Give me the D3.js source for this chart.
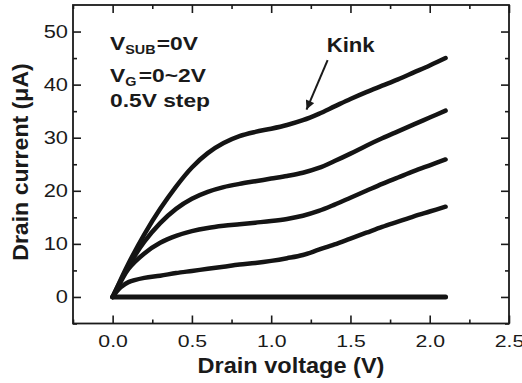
<!DOCTYPE html>
<html>
<head>
<meta charset="utf-8">
<script src="https://cdn.jsdelivr.net/npm/d3@7"></script>
<style>
  body { margin: 0; background: #fff; }
  text { font-family: "Liberation Sans", Arial, Helvetica, sans-serif; fill: #1a1a1a; }
</style>
</head>
<body>
<script>
// drain voltage samples (V)
var vd = [0, 0.05, 0.1, 0.2, 0.3, 0.4, 0.5, 0.6, 0.7, 0.8, 0.9, 1.0, 1.1,
          1.2, 1.3, 1.4, 1.5, 1.6, 1.7, 1.8, 1.9, 2.0, 2.1];

// drain current (uA) for each gate voltage
var idVg20 = [0, 3.2, 6.3, 11.8, 16.6, 20.8, 24.4, 27.1, 29.0, 30.3, 31.1, 31.7, 32.4,
              33.3, 34.5, 35.9, 37.3, 38.6, 39.8, 41.0, 42.3, 43.6, 45.0];
var idVg15 = [0, 3.0, 5.8, 10.4, 13.9, 16.6, 18.5, 19.8, 20.7, 21.3, 21.8, 22.3, 22.8,
              23.4, 24.3, 25.6, 27.0, 28.5, 29.9, 31.2, 32.5, 33.8, 35.1];
var idVg10 = [0, 2.8, 5.3, 8.2, 10.2, 11.5, 12.4, 13.0, 13.4, 13.7, 14.0, 14.3, 14.7,
              15.3, 16.2, 17.4, 18.7, 20.0, 21.3, 22.5, 23.7, 24.8, 25.9];
var idVg05 = [0, 1.8, 2.8, 3.6, 4.0, 4.5, 4.9, 5.3, 5.7, 6.1, 6.4, 6.8, 7.3,
              7.9, 8.9, 9.9, 11.0, 12.1, 13.2, 14.2, 15.2, 16.1, 17.0];
var idVg00 = [0, 0, 0, 0, 0, 0, 0, 0, 0, 0, 0, 0, 0,
              0, 0, 0, 0, 0, 0, 0, 0, 0, 0];

var xTicks = [0, 0.5, 1.0, 1.5, 2.0, 2.5];
var xMinor = [-0.25, 0.25, 0.75, 1.25, 1.75, 2.25];
var yTicks = [0, 10, 20, 30, 40, 50];
var yMinor = [-5, 5, 15, 25, 35, 45];

var width = 522;
var height = 383;
var margins = { top: 5, bottom: 59.5, left: 73, right: 13 };

var svg = d3.select("body").append("svg")
  .attr("width", width)
  .attr("height", height);

var xScale = d3.scaleLinear()
  .domain([-0.25, 2.5])
  .range([margins.left, width - margins.right]);
var yScale = d3.scaleLinear()
  .domain([-5, 55])
  .range([height - margins.bottom, margins.top]);

var x0 = margins.left, x1 = width - margins.right;
var y0 = height - margins.bottom, y1 = margins.top;

// ticks, all pointing inwards
function tickStyle(g) {
  g.select(".domain").remove();
  g.selectAll("line").attr("stroke", "#1a1a1a").attr("stroke-width", 1.6);
}

svg.append("g").attr("transform", "translate(0," + y0 + ")")
  .call(d3.axisBottom(xScale).tickValues(xTicks).tickSizeInner(-8).tickSizeOuter(0)
        .tickPadding(11).tickFormat(d3.format(".1f")))
  .call(tickStyle)
  .selectAll("text")
  .attr("font-size", 17)
  .attr("transform", "scale(1.25,1)");

svg.append("g").attr("transform", "translate(0," + y0 + ")")
  .call(d3.axisBottom(xScale).tickValues(xMinor).tickSize(-4).tickFormat(""))
  .call(tickStyle);

svg.append("g").attr("transform", "translate(0," + y1 + ")")
  .call(d3.axisTop(xScale).tickValues(xTicks).tickSize(-8).tickFormat(""))
  .call(tickStyle);
svg.append("g").attr("transform", "translate(0," + y1 + ")")
  .call(d3.axisTop(xScale).tickValues(xMinor).tickSize(-4).tickFormat(""))
  .call(tickStyle);

svg.append("g").attr("transform", "translate(" + x0 + ",0)")
  .call(d3.axisLeft(yScale).tickValues(yTicks).tickSizeInner(-8).tickSizeOuter(0)
        .tickPadding(4))
  .call(tickStyle)
  .selectAll("text")
  .attr("font-size", 17.5)
  .attr("transform", "scale(1.25,1)");

svg.append("g").attr("transform", "translate(" + x0 + ",0)")
  .call(d3.axisLeft(yScale).tickValues(yMinor).tickSize(-4).tickFormat(""))
  .call(tickStyle);

svg.append("g").attr("transform", "translate(" + x1 + ",0)")
  .call(d3.axisRight(yScale).tickValues(yTicks).tickSize(-8).tickFormat(""))
  .call(tickStyle);
svg.append("g").attr("transform", "translate(" + x1 + ",0)")
  .call(d3.axisRight(yScale).tickValues(yMinor).tickSize(-4).tickFormat(""))
  .call(tickStyle);

// frame
svg.append("rect")
  .attr("x", x0).attr("y", y1)
  .attr("width", x1 - x0).attr("height", y0 - y1)
  .attr("fill", "none")
  .attr("stroke", "#1a1a1a")
  .attr("stroke-width", 1.8);

// curves
var series = [idVg00, idVg05, idVg10, idVg15, idVg20];
var line = d3.line()
  .x(function(d, i) { return xScale(vd[i]); })
  .y(function(d) { return yScale(d); })
  .curve(d3.curveCatmullRom.alpha(0.5));

svg.append("g").selectAll("path")
  .data(series)
  .enter()
  .append("path")
  .attr("d", line)
  .attr("fill", "none")
  .attr("stroke", "#141414")
  .attr("stroke-width", function(d, i) { return i === 0 ? 5 : 4.5; })
  .attr("stroke-linecap", "round")
  .attr("stroke-linejoin", "round");

// axis titles
svg.append("text")
  .attr("transform", "translate(291,373) scale(1.07,1)")
  .attr("text-anchor", "middle")
  .attr("font-size", 22)
  .attr("font-weight", "bold")
  .text("Drain voltage (V)");

svg.append("text")
  .attr("transform", "translate(28,162) rotate(-90) scale(1.05,1)")
  .attr("text-anchor", "middle")
  .attr("font-size", 22)
  .attr("font-weight", "bold")
  .text("Drain current (\u03bcA)");

// conditions label
var note = svg.append("g")
  .attr("transform", "translate(110,0) scale(1.2,1)")
  .attr("font-weight", "bold");

var l1 = note.append("text").attr("x", 0).attr("y", 50).attr("font-size", 19);
l1.append("tspan").text("V");
l1.append("tspan").attr("font-size", 12).attr("dy", 4).text("SUB");
l1.append("tspan").attr("dy", -4).attr("dx", 1).text("=0V");

var l2 = note.append("text").attr("x", 0).attr("y", 82).attr("font-size", 19);
l2.append("tspan").text("V");
l2.append("tspan").attr("font-size", 12).attr("dy", 4).text("G");
l2.append("tspan").attr("dy", -4).attr("dx", 2).text("=0~2V");

note.append("text").attr("x", 0).attr("y", 107).attr("font-size", 19)
  .text("0.5V step");

// kink annotation
var kinkText = { v: 1.35, i: 46.1 };
var arrowFrom = { v: 1.356, i: 44.6 };
var arrowTo = { v: 1.223, i: 35.3 };

svg.append("text")
  .attr("transform", "translate(" + xScale(kinkText.v) + "," + yScale(kinkText.i) + ") scale(1.08,1)")
  .attr("font-size", 20.5)
  .attr("font-weight", "bold")
  .text("Kink");

svg.append("defs").append("marker")
  .attr("id", "head")
  .attr("viewBox", "0 0 10 10")
  .attr("refX", 10).attr("refY", 5)
  .attr("markerWidth", 12).attr("markerHeight", 9)
  .attr("markerUnits", "userSpaceOnUse")
  .attr("orient", "auto")
  .append("path")
  .attr("d", "M0,0 L10,5 L0,10 Z")
  .attr("fill", "#1a1a1a");

svg.append("line")
  .attr("x1", xScale(arrowFrom.v)).attr("y1", yScale(arrowFrom.i))
  .attr("x2", xScale(arrowTo.v)).attr("y2", yScale(arrowTo.i))
  .attr("stroke", "#1a1a1a")
  .attr("stroke-width", 2)
  .attr("marker-end", "url(#head)");
</script>
</body>
</html>
